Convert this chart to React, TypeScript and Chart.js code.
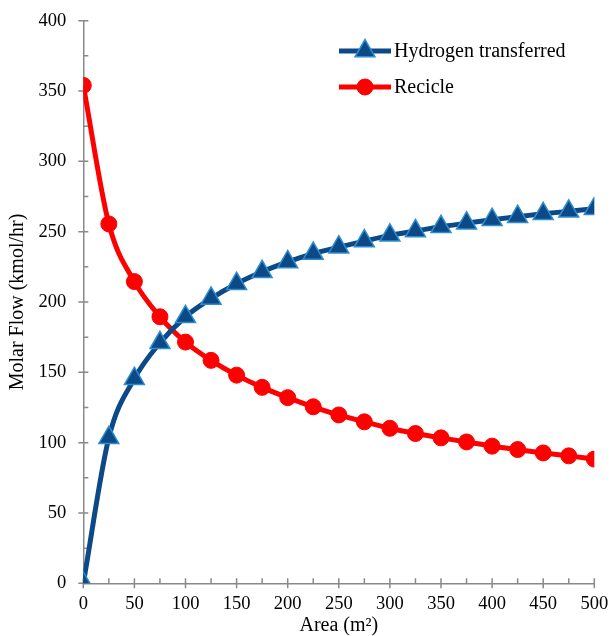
import { useEffect, useRef } from "react";
import { Chart, registerables } from "chart.js";
import { drawPoint } from "chart.js/helpers";

Chart.register(...registerables);

const areas = [0, 25, 50, 75, 100, 125, 150, 175, 200, 225, 250, 275, 300, 325, 350, 375, 400, 425, 450, 475, 500];
const hydrogenTransferred = [0, 103.5, 145.5, 171, 189.5, 202.5, 213, 221.5, 228.5, 234.4, 239, 243.3, 247.4, 250.5, 253.5, 256, 258.5, 260.7, 262.7, 264.5, 266.3];
const recicle = [354, 255.5, 214.5, 189.5, 171.5, 158.5, 148, 139.3, 132, 125.5, 119.7, 114.8, 110.2, 106.5, 103.4, 100.5, 97.5, 95.1, 92.7, 90.6, 88.3];

const seriesNames = ["Hydrogen transferred", "Recicle"];
const xTitle = "Area (m²)";
const yTitle = "Molar Flow (kmol/hr)";
const xMin = 0, xMax = 500, xMajor = 50, xMinor = 25;
const yMin = 0, yMax = 400, yMajor = 50, yMinor = 25;

const FONT = "'Liberation Serif', 'Times New Roman', serif";
const BLUE = "#0b4a86";
const BLUE_EDGE = "#2e8dd0";
const RED = "#ff0000";
const AXIS = "#898989";

const tickPlugin = {
  id: "axisTicks",
  beforeDatasetsDraw(chart: any) {
    const ctx = chart.ctx;
    const xs = chart.scales.x;
    const ys = chart.scales.y;
    const area = chart.chartArea;
    ctx.save();
    ctx.strokeStyle = AXIS;
    ctx.lineWidth = 1.5;
    ctx.beginPath();
    for (let v = xMin; v <= xMax + 1e-9; v += xMinor) {
      const px = xs.getPixelForValue(v);
      const major = Math.abs(v / xMajor - Math.round(v / xMajor)) < 1e-9;
      ctx.moveTo(px, area.bottom - 5);
      ctx.lineTo(px, major ? area.bottom + 5 : area.bottom);
    }
    for (let v = yMin; v <= yMax + 1e-9; v += yMinor) {
      const py = ys.getPixelForValue(v);
      const major = Math.abs(v / yMajor - Math.round(v / yMajor)) < 1e-9;
      ctx.moveTo(area.left + 5, py);
      ctx.lineTo(major ? area.left - 5 : area.left, py);
    }
    ctx.stroke();
    ctx.restore();
  },
};

const legendPlugin = {
  id: "insideLegend",
  afterDraw(chart: any) {
    const ctx = chart.ctx;
    const x0 = 339, x1 = 391, textX = 394;
    const rows = [51, 87];
    chart.data.datasets.forEach((ds: any, i: number) => {
      const y = rows[i];
      ctx.save();
      ctx.strokeStyle = ds.borderColor;
      ctx.lineWidth = ds.borderWidth;
      ctx.beginPath();
      ctx.moveTo(x0, y);
      ctx.lineTo(x1, y);
      ctx.stroke();
      ctx.fillStyle = ds.pointBackgroundColor;
      ctx.strokeStyle = ds.pointBorderColor;
      ctx.lineWidth = ds.pointBorderWidth;
      drawPoint(
        ctx,
        { pointStyle: ds.pointStyle, radius: ds.pointRadius, borderWidth: ds.pointBorderWidth, rotation: 0 } as any,
        (x0 + x1) / 2,
        y
      );
      ctx.restore();
      ctx.save();
      ctx.fillStyle = "#000";
      ctx.font = `20px ${FONT}`;
      ctx.textAlign = "left";
      ctx.textBaseline = "middle";
      ctx.fillText(ds.label, textX, y + 1);
      ctx.restore();
    });
  },
};

function zeroPadding(scale: any) {
  scale.paddingTop = 0;
  scale.paddingBottom = 0;
  scale.paddingLeft = 0;
  scale.paddingRight = 0;
}

export default function App() {
  const canvasRef = useRef<HTMLCanvasElement | null>(null);

  useEffect(() => {
    document.body.style.margin = "0";
    const canvas = canvasRef.current;
    if (!canvas) return;
    const chart = new Chart(canvas, {
      type: "line",
      data: {
        datasets: [
          {
            label: seriesNames[0],
            data: areas.map((a, i) => ({ x: a, y: hydrogenTransferred[i] })),
            borderColor: BLUE,
            borderWidth: 5,
            pointStyle: "triangle",
            pointRadius: 11.5,
            pointBackgroundColor: BLUE,
            pointBorderColor: BLUE_EDGE,
            pointBorderWidth: 1.5,
            cubicInterpolationMode: "monotone",
          } as any,
          {
            label: seriesNames[1],
            data: areas.map((a, i) => ({ x: a, y: recicle[i] })),
            borderColor: RED,
            borderWidth: 5,
            pointStyle: "circle",
            pointRadius: 8,
            pointBackgroundColor: RED,
            pointBorderColor: RED,
            pointBorderWidth: 1,
            cubicInterpolationMode: "monotone",
          } as any,
        ],
      },
      options: {
        animation: false,
        responsive: false,
        maintainAspectRatio: false,
        devicePixelRatio: 1,
        layout: { padding: { top: 20.7, right: 18.7, left: 0, bottom: 0 } },
        plugins: {
          legend: { display: false },
          tooltip: { enabled: false },
        },
        scales: {
          x: {
            type: "linear",
            min: xMin,
            max: xMax,
            grid: { display: false, drawTicks: false },
            border: { display: true, color: AXIS, width: 1.5 },
            ticks: {
              stepSize: xMajor,
              padding: 10,
              color: "#000",
              font: { family: FONT, size: 18.5 },
              maxRotation: 0,
            },
            title: {
              display: true,
              text: xTitle,
              color: "#000",
              font: { family: FONT, size: 20, lineHeight: 1.0 },
              padding: { top: 0, bottom: 0 },
            },
            afterFit(scale: any) {
              scale.height = 52.7;
              zeroPadding(scale);
            },
          },
          y: {
            type: "linear",
            min: yMin,
            max: yMax,
            grid: { display: false, drawTicks: false },
            border: { display: true, color: AXIS, width: 1.5 },
            ticks: {
              stepSize: yMajor,
              padding: 17,
              color: "#000",
              font: { family: FONT, size: 18.5 },
            },
            title: {
              display: true,
              text: yTitle,
              color: "#000",
              font: { family: FONT, size: 20 },
              padding: { top: 6, bottom: 0 },
            },
            afterFit(scale: any) {
              scale.width = 83.3;
              zeroPadding(scale);
            },
          },
        },
      },
      plugins: [tickPlugin, legendPlugin],
    });
    return () => chart.destroy();
  }, []);

  return (
    <div style={{ width: 613, height: 636 }}>
      <canvas ref={canvasRef} width={613} height={636} style={{ width: 613, height: 636 }} />
    </div>
  );
}
